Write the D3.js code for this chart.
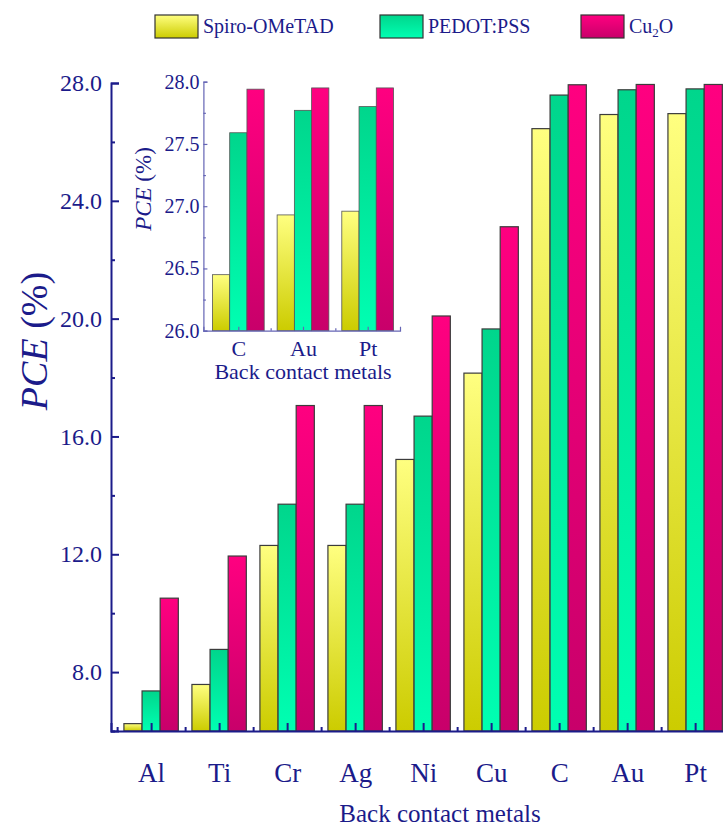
<!DOCTYPE html>
<html>
<head>
<meta charset="utf-8">
<script src="https://cdn.jsdelivr.net/npm/d3@7/dist/d3.min.js"></script>
<style>
  html, body { margin: 0; padding: 0; background: #fff; }
  svg { display: block; font-family: "Liberation Serif", "Times New Roman", serif; }
</style>
</head>
<body>
<svg id="chart" width="723" height="826"></svg>
<script>
// Back contact metals and PCE (%) for each hole transport layer
const metals = ["Al", "Ti", "Cr", "Ag", "Ni", "Cu", "C", "Au", "Pt"];
const seriesNames = ["Spiro-OMeTAD", "PEDOT:PSS", "Cu2O"];
const spiro = [6.25, 7.58, 12.30, 12.30, 15.22, 18.15, 26.45, 26.93, 26.96];
const pedot = [7.36, 8.77, 13.70, 13.70, 16.69, 19.65, 27.59, 27.77, 27.80];
const cu2o  = [10.51, 11.94, 17.05, 17.05, 20.09, 23.12, 27.94, 27.95, 27.95];

// Zoomed inset: the three best metals
const insetMetals = ["C", "Au", "Pt"];
const insetSpiro = [26.45, 26.93, 26.96];
const insetPedot = [27.59, 27.77, 27.80];
const insetCu2o  = [27.94, 27.95, 27.95];

const yMajor = [8, 12, 16, 20, 24, 28];
const yMinor = [6, 10, 14, 18, 22, 26];
const insetYMajor = [26.0, 26.5, 27.0, 27.5, 28.0];
const insetYMinor = [26.25, 26.75, 27.25, 27.75];

const navy = "#1b1b8a";
const insetAxis = "#6565b5";
const fills = [
  { id: "gYellow", top: "#ffff80", bottom: "#cccc00" },
  { id: "gGreen",  top: "#00d68c", bottom: "#00ffb2" },
  { id: "gPink",   top: "#ff0080", bottom: "#c8006a" }
];

const svg = d3.select("#chart");
const defs = svg.append("defs");
fills.forEach(f => {
  const g = defs.append("linearGradient").attr("id", f.id)
    .attr("x1", 0).attr("y1", 0).attr("x2", 0).attr("y2", 1);
  g.append("stop").attr("offset", "0%").attr("stop-color", f.top);
  g.append("stop").attr("offset", "100%").attr("stop-color", f.bottom);
});

// ---------- main chart ----------
const x = d3.scaleLinear().domain([-0.59, 8.42]).range([111, 723.7]);
const y = d3.scaleLinear().domain([6, 28]).range([731, 83]);
const barW = 0.8 / 3;

const mainSeries = [spiro, pedot, cu2o];
mainSeries.forEach((vals, s) => {
  svg.append("g").selectAll("rect").data(vals).join("rect")
    .attr("x", (d, i) => x(i - 0.4 + s * barW))
    .attr("width", x(barW) - x(0))
    .attr("y", d => y(d))
    .attr("height", d => y(6) - y(d))
    .attr("fill", `url(#${fills[s].id})`)
    .attr("stroke", "#3c3c3c")
    .attr("stroke-width", 1.2);
});

// y axis: major ticks with labels, minor ticks without
const yAxisG = svg.append("g").attr("transform", "translate(111,0)")
  .call(d3.axisLeft(y).tickValues(yMajor).tickSize(-8).tickPadding(9)
    .tickFormat(d3.format(".1f")));
svg.append("g").attr("transform", "translate(111,0)")
  .call(d3.axisLeft(y).tickValues(yMinor).tickSize(-4).tickFormat(""))
  .call(g => g.select(".domain").remove());

// x axis
const xAxisG = svg.append("g").attr("transform", "translate(0,731)")
  .call(d3.axisBottom(x).tickValues(d3.range(metals.length)).tickSize(-8).tickPadding(32)
    .tickFormat(i => metals[i]));
svg.append("g").attr("transform", "translate(0,731)")
  .call(d3.axisBottom(x).tickValues(d3.range(-0.5, metals.length, 1)).tickSize(-4).tickFormat(""))
  .call(g => g.select(".domain").remove());

[yAxisG, xAxisG].forEach(g => {
  g.select(".domain").attr("stroke", navy).attr("stroke-width", 2);
});
svg.selectAll(".tick line").attr("stroke", navy).attr("stroke-width", 2);
yAxisG.selectAll("text").attr("fill", navy).attr("font-size", 24)
  .attr("font-family", "Liberation Serif");
xAxisG.selectAll("text").attr("fill", navy).attr("font-size", 27)
  .attr("font-family", "Liberation Serif");

svg.append("text").attr("x", 440).attr("y", 822).attr("text-anchor", "middle")
  .attr("fill", navy).attr("font-size", 25).text("Back contact metals");

const yTitle = svg.append("text")
  .attr("transform", "translate(47,341) rotate(-90)")
  .attr("text-anchor", "middle").attr("fill", navy).attr("font-size", 38);
yTitle.append("tspan").attr("font-style", "italic").text("PCE");
yTitle.append("tspan").text(" (%)");

// ---------- inset ----------
const ix = d3.scaleLinear().domain([-0.54, 2.5]).range([203.4, 400]);
const iy = d3.scaleLinear().domain([26, 28]).range([330.7, 81.7]);
const insetSeries = [insetSpiro, insetPedot, insetCu2o];
insetSeries.forEach((vals, s) => {
  svg.append("g").selectAll("rect").data(vals).join("rect")
    .attr("x", (d, i) => ix(i - 0.4 + s * barW))
    .attr("width", ix(barW) - ix(0))
    .attr("y", d => iy(d))
    .attr("height", d => iy(26) - iy(d))
    .attr("fill", `url(#${fills[s].id})`)
    .attr("stroke", "#555")
    .attr("stroke-width", 0.8);
});

const iyAxis = svg.append("g").attr("transform", "translate(203.4,0)")
  .call(d3.axisLeft(iy).tickValues(insetYMajor).tickSize(-4).tickPadding(4)
    .tickFormat(d3.format(".1f")));
const iyMinor = svg.append("g").attr("transform", "translate(203.4,0)")
  .call(d3.axisLeft(iy).tickValues(insetYMinor).tickSize(-2.5).tickFormat(""));
iyMinor.select(".domain").remove();
const ixAxis = svg.append("g").attr("transform", "translate(0,330.7)")
  .call(d3.axisBottom(ix).tickValues([0, 1, 2]).tickSize(-4).tickPadding(10)
    .tickFormat(i => insetMetals[i]));
const ixMinor = svg.append("g").attr("transform", "translate(0,330.7)")
  .call(d3.axisBottom(ix).tickValues([0.5, 1.5]).tickSize(-2.5).tickFormat(""));
ixMinor.select(".domain").remove();

[iyAxis, iyMinor, ixAxis, ixMinor].forEach(g => {
  g.select(".domain").attr("stroke", insetAxis).attr("stroke-width", 1.2);
  g.selectAll(".tick line").attr("stroke", insetAxis).attr("stroke-width", 1.2);
});
iyAxis.selectAll("text").attr("fill", navy).attr("font-size", 20)
  .attr("font-family", "Liberation Serif");
ixAxis.selectAll("text").attr("fill", navy).attr("font-size", 22)
  .attr("font-family", "Liberation Serif");

svg.append("text").attr("x", 303).attr("y", 379).attr("text-anchor", "middle")
  .attr("fill", navy).attr("font-size", 22).text("Back contact metals");
const iyTitle = svg.append("text")
  .attr("transform", "translate(151,189) rotate(-90)")
  .attr("text-anchor", "middle").attr("fill", navy).attr("font-size", 23);
iyTitle.append("tspan").attr("font-style", "italic").text("PCE");
iyTitle.append("tspan").text(" (%)");

// ---------- legend ----------
const legendX = [155, 380, 581];
const legend = svg.append("g");
seriesNames.forEach((name, s) => {
  const g = legend.append("g").attr("transform", `translate(${legendX[s]},15)`);
  g.append("rect").attr("width", 43).attr("height", 23)
    .attr("fill", `url(#${fills[s].id})`).attr("stroke", "#333").attr("stroke-width", 1.2);
  const t = g.append("text").attr("x", 48).attr("y", 18)
    .attr("fill", navy).attr("font-size", 20);
  if (name === "Cu2O") {
    t.append("tspan").text("Cu");
    t.append("tspan").attr("font-size", 13).attr("dy", 4).text("2");
    t.append("tspan").attr("dy", -4).text("O");
  } else {
    t.text(name);
  }
});
</script>
</body>
</html>
